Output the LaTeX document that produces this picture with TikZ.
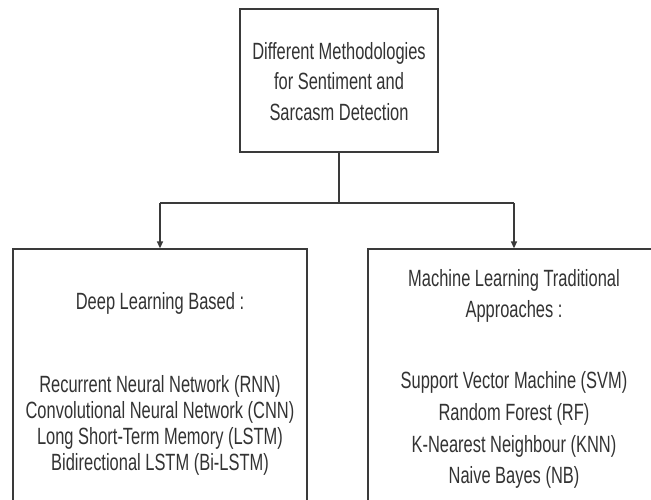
\documentclass[tikz,border=0pt]{standalone}
\usepackage{fontspec}
\setmainfont{Liberation Sans}[FakeStretch=0.7]
\usetikzlibrary{arrows.meta}
\definecolor{linec}{HTML}{3A3A3A}
\definecolor{txtc}{HTML}{333333}
\begin{document}
\begin{tikzpicture}[x=1pt,y=-1pt,
  boxst/.style={draw=linec,line width=1.3pt,inner sep=0pt},
  conn/.style={draw=linec,line width=1.3pt},
  arr/.style={conn,-{Triangle[length=7pt,width=6pt]}},
  txt/.style={anchor=base,inner sep=0pt,text=txtc,font=\fontsize{23.5}{28}\selectfont}]
\useasboundingbox (0,0) rectangle (651,499);
\clip (0,0) rectangle (651,499);
\fill[white] (0,0) rectangle (651,499);
% boxes
\node[boxst,minimum width=198pt,minimum height=143pt] (top) at (339,80.5) {};
\node[boxst,minimum width=294pt,minimum height=271pt] (lbox) at (160,384.5) {};
\node[boxst,minimum width=292pt,minimum height=271pt] (rbox) at (514,384.5) {};
% top text
\node[txt] (t1) at (339,59) {Different Methodologies};
\node[txt] (t2) at (339,89.5) {for Sentiment and};
\node[txt] (t3) at (339,120) {Sarcasm Detection};
% left text
\node[txt] (l0) at (160,309) {Deep Learning Based :};
\node[txt] (l1) at (160,392) {Recurrent Neural Network (RNN)};
\node[txt] (l2) at (160,418) {Convolutional Neural Network (CNN)};
\node[txt] (l3) at (160,444) {Long Short-Term Memory (LSTM)};
\node[txt] (l4) at (160,470) {Bidirectional LSTM (Bi-LSTM)};
% right text
\node[txt] (r0) at (514,286) {Machine Learning Traditional};
\node[txt] (r1) at (514,317) {Approaches :};
\node[txt] (r2) at (514,388) {Support Vector Machine (SVM)};
\node[txt] (r3) at (514,420) {Random Forest (RF)};
\node[txt] (r4) at (514,452) {K-Nearest Neighbour (KNN)};
\node[txt] (r5) at (514,483) {Naive Bayes (NB)};
% connectors
\coordinate (jl) at (160,203);
\coordinate (jr) at (514,203);
\draw[conn] (top.south) -- (top.south |- jl);
\draw[conn] (jl) -- (jr);
\draw[arr] (jl) -- (lbox.north);
\draw[arr] (jr) -- (rbox.north);
\end{tikzpicture}
\end{document}
